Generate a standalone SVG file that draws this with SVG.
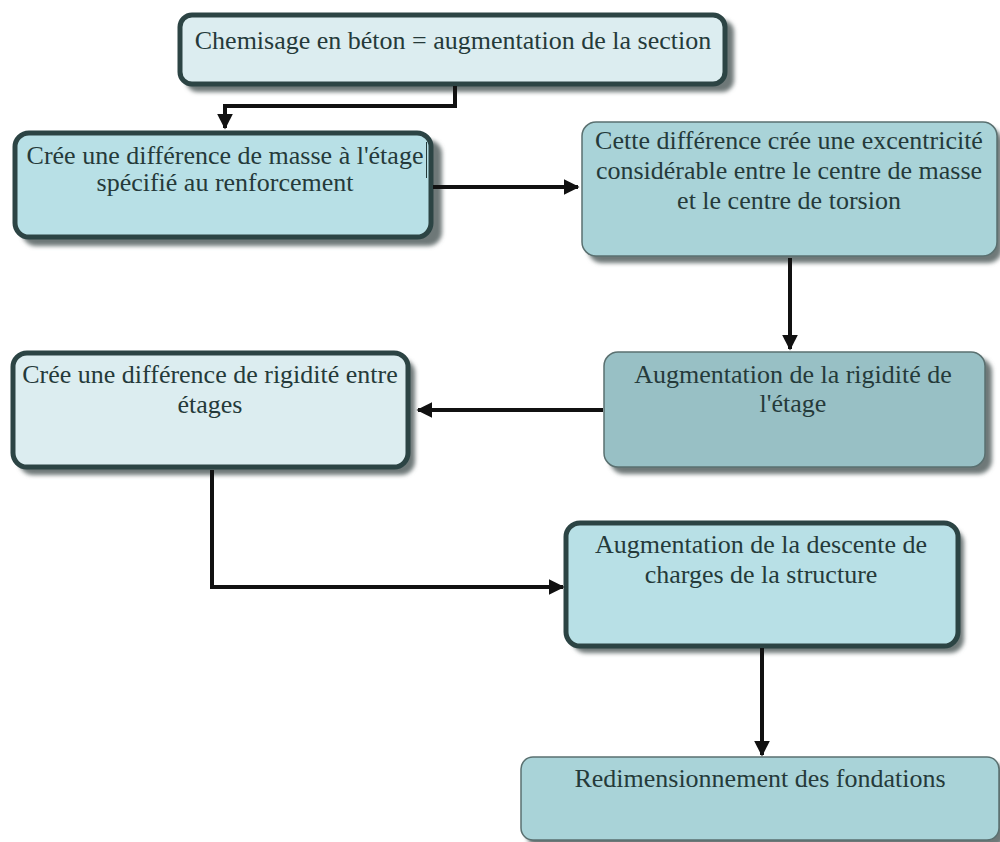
<svg xmlns="http://www.w3.org/2000/svg" width="1000" height="842" viewBox="0 0 1000 842">
<defs>
<style>
.t{font-size:26px;fill:#253a3a;text-anchor:middle}
.shadow{fill:#6e7878;filter:url(#blur)}
.thick{stroke:#2c4444;stroke-width:5}
.thin{stroke:#5a7070;stroke-width:1.5}
.light{fill:#dcedf0}
.mid{fill:#b8e0e6}
.teal{fill:#a9d3d8}
.dark{fill:#98c0c5}
.c{fill:none;stroke:#111;stroke-width:4}
</style>
<filter id="blur" x="-5%" y="-5%" width="110%" height="115%"><feGaussianBlur stdDeviation="2"/></filter>
<marker id="ah" viewBox="0 0 10 10" refX="9" refY="5" markerWidth="4" markerHeight="4" orient="auto" markerUnits="strokeWidth">
<path d="M0,0 L10,5 L0,10 z" fill="#111"/>
</marker>
</defs>
<rect width="1000" height="842" fill="#fff"/>
<g font-family="Liberation Serif, Times New Roman, serif">
<g id="n1">
<rect class="shadow" x="186" y="20" width="548" height="72" rx="12"/>
<rect class="light thick" x="180" y="15" width="545" height="69" rx="12"/>
<text class="t" x="453" y="49">Chemisage en béton = augmentation de la section</text>
</g>

<g id="n2">
<rect class="shadow" x="22" y="140" width="420" height="106" rx="14"/>
<rect class="mid thick" x="15" y="133" width="416" height="104" rx="14"/>
<text class="t" x="225" y="164">Crée une différence de masse à l'étage</text>
<text class="t" x="225" y="191">spécifié au renforcement</text>
<line x1="426.5" y1="142" x2="426.5" y2="178" stroke="#253a3a" stroke-width="1"/>
</g>

<g id="n3">
<rect class="shadow" x="588" y="128" width="414" height="135" rx="14"/>
<rect class="teal thin" x="582" y="122" width="415" height="134" rx="14"/>
<text class="t" x="789" y="149">Cette différence crée une excentricité</text>
<text class="t" x="789" y="179">considérable entre le centre de masse</text>
<text class="t" x="789" y="209">et le centre de torsion</text>
</g>

<g id="n4">
<rect class="shadow" x="610" y="358" width="382" height="116" rx="14"/>
<rect class="dark thin" x="604" y="352" width="381" height="115" rx="14"/>
<text class="t" x="793" y="383">Augmentation de la rigidité de</text>
<text class="t" x="793" y="412">l'étage</text>
</g>

<g id="n5">
<rect class="shadow" x="19" y="359" width="396" height="116" rx="14"/>
<rect class="light thick" x="13" y="353" width="395" height="114" rx="14"/>
<text class="t" x="210" y="383">Crée une différence de rigidité entre</text>
<text class="t" x="210" y="413">étages</text>
</g>

<g id="n6">
<rect class="shadow" x="572" y="529" width="392" height="124" rx="14"/>
<rect class="mid thick" x="566" y="523" width="392" height="123" rx="14"/>
<text class="t" x="761" y="553">Augmentation de la descente de</text>
<text class="t" x="761" y="583">charges de la structure</text>
</g>

<g id="n7">
<rect class="shadow" x="527" y="763" width="478" height="84" rx="12"/>
<rect class="teal thin" x="521" y="757" width="478" height="83" rx="12"/>
<text class="t" x="760" y="787">Redimensionnement des fondations</text>
</g>
</g>
<g id="connectors">
<polyline class="c" points="455,86 455,106 225,106 225,128" marker-end="url(#ah)"/>
<line class="c" x1="433" y1="187" x2="578" y2="187" marker-end="url(#ah)"/>
<line class="c" x1="790" y1="258" x2="790" y2="349" marker-end="url(#ah)"/>
<line class="c" x1="603" y1="410" x2="418" y2="410" marker-end="url(#ah)"/>
<polyline class="c" points="212,470 212,587 563,587" marker-end="url(#ah)"/>
<line class="c" x1="762" y1="648" x2="762" y2="755" marker-end="url(#ah)"/>
</g>
</svg>
